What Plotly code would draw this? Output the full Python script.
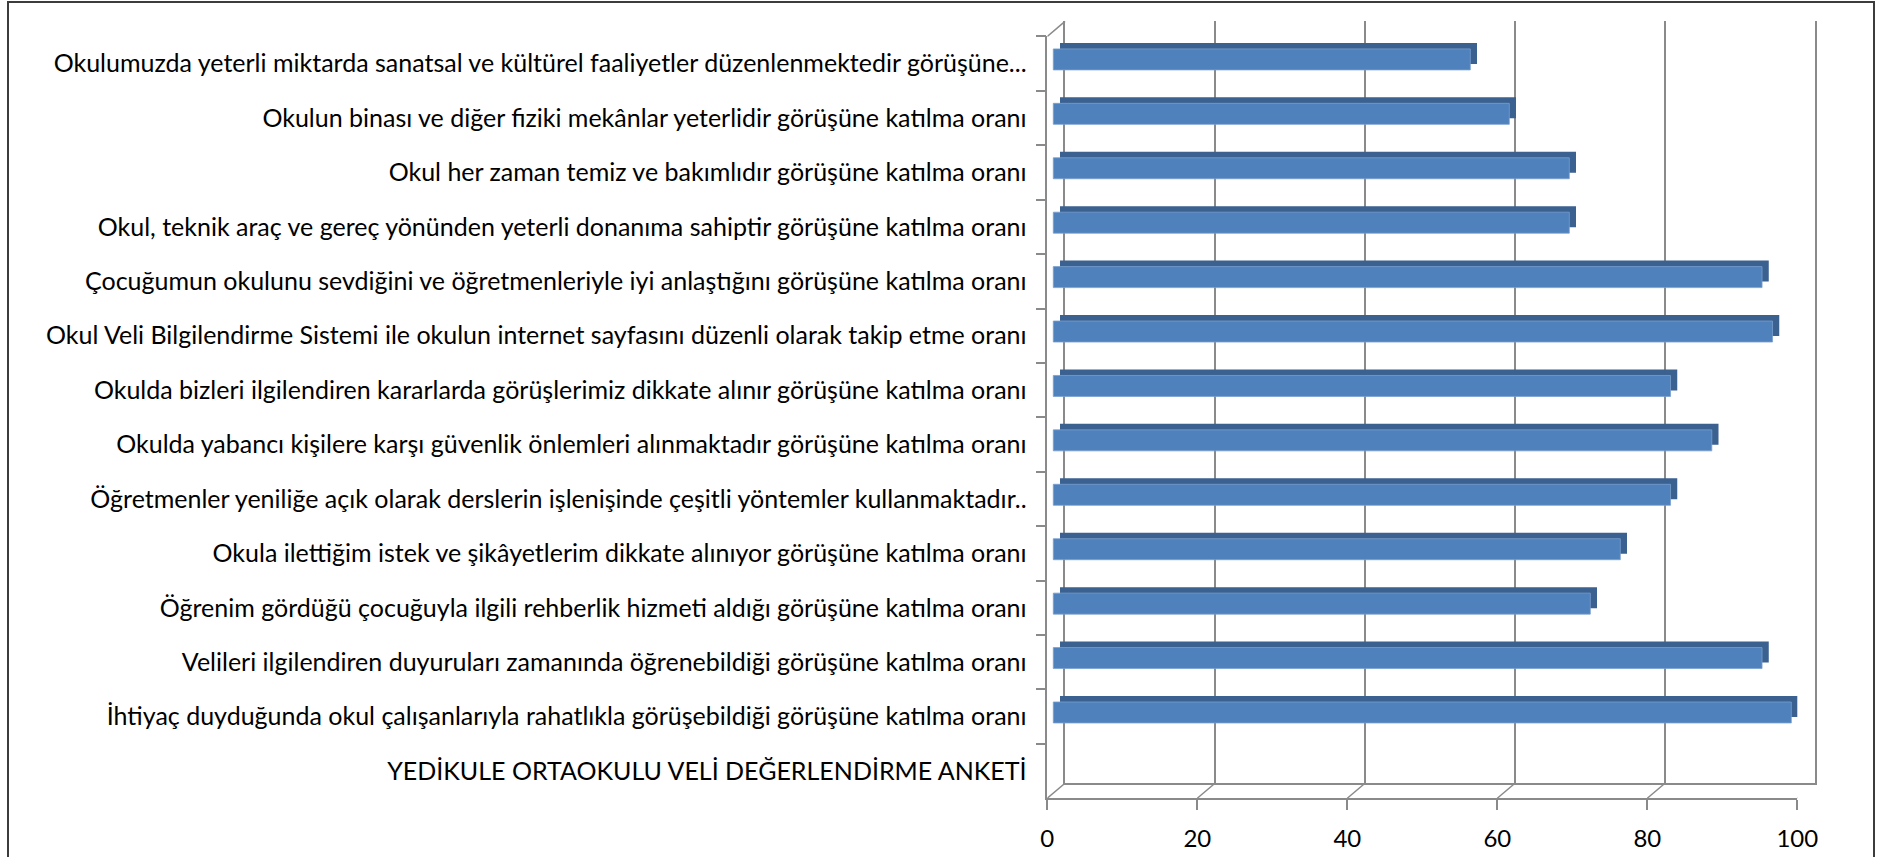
import plotly.graph_objects as go

# ---------------- data (bottom -> top, as plotted) ----------------
CATEGORIES = [
    "YEDİKULE ORTAOKULU VELİ DEĞERLENDİRME ANKETİ",
    "İhtiyaç duyduğunda okul çalışanlarıyla rahatlıkla görüşebildiği görüşüne katılma oranı",
    "Velileri ilgilendiren duyuruları zamanında öğrenebildiği görüşüne katılma oranı",
    "Öğrenim gördüğü çocuğuyla ilgili rehberlik hizmeti aldığı görüşüne katılma oranı",
    "Okula ilettiğim istek ve şikâyetlerim dikkate alınıyor görüşüne katılma oranı",
    "Öğretmenler yeniliğe açık olarak derslerin işlenişinde çeşitli yöntemler kullanmaktadır..",
    "Okulda yabancı kişilere karşı güvenlik önlemleri alınmaktadır görüşüne katılma oranı",
    "Okulda bizleri ilgilendiren kararlarda görüşlerimiz dikkate alınır görüşüne katılma oranı",
    "Okul Veli Bilgilendirme Sistemi ile okulun internet sayfasını düzenli olarak takip etme oranı",
    "Çocuğumun okulunu sevdiğini ve öğretmenleriyle iyi anlaştığını görüşüne katılma oranı",
    "Okul, teknik araç ve gereç yönünden yeterli donanıma sahiptir görüşüne katılma oranı",
    "Okul her zaman temiz ve bakımlıdır görüşüne katılma oranı",
    "Okulun binası ve diğer fiziki mekânlar yeterlidir görüşüne katılma oranı",
    "Okulumuzda yeterli miktarda sanatsal ve kültürel faaliyetler düzenlenmektedir görüşüne...",
]
VALUES = [None, 98.4, 94.5, 71.6, 75.6, 82.3, 87.8, 82.3, 95.9, 94.5, 68.8, 68.8, 60.8, 55.6]
X_TICKS = [0, 20, 40, 60, 80, 100]
X_TICK_LABELS = ["0", "20", "40", "60", "80", "100"]

# ---------------- styling / geometry ----------------
W, H = 1885, 857
FONT = "Lato"
GRID = "#8a8a8a"
FRONT_BLUE = "#4F81BD"
DARK_BLUE = "#3A6190"

# front plane (px)
FX0, FX1 = 1047.3, 1797.3
FY_TOP, FY_BOT = 36.4, 798.3
# depth shift of back wall (px)
DX, DY = 17.7, 15.0
PX_PER_UNIT = (FX1 - FX0) / 100.0

front_xdom = [FX0 / W, FX1 / W]
front_ydom = [1 - FY_BOT / H, 1 - FY_TOP / H]
back_xdom = [(FX0 + DX) / W, (FX1 + DX) / W]
back_ydom = [1 - (FY_BOT - DY) / H, 1 - (FY_TOP - DY) / H]

FRONT_BASE = 6.0 / PX_PER_UNIT      # bar front face starts slightly inside
BACK_BASE = 12.7 / PX_PER_UNIT      # bar back/top face
BAR_W = 0.386
FRONT_OFF = -0.116
BACK_OFF = FRONT_OFF + 6.0 / 54.4

fig = go.Figure()

# invisible trace to keep back-wall subplot alive
fig.add_trace(go.Scatter(x=[None], y=[None], xaxis="x", yaxis="y",
                         showlegend=False, hoverinfo="skip"))

# 3D-ish bars: darker top/side face behind, front face on top
fig.add_trace(go.Bar(
    x=VALUES, y=CATEGORIES, orientation="h", base=BACK_BASE,
    offset=BACK_OFF, width=BAR_W,
    marker=dict(color=DARK_BLUE, line=dict(width=0)),
    xaxis="x2", yaxis="y2", showlegend=False, hoverinfo="skip"))
fig.add_trace(go.Bar(
    x=VALUES, y=CATEGORIES, orientation="h", base=FRONT_BASE,
    offset=FRONT_OFF, width=BAR_W,
    marker=dict(color=FRONT_BLUE, line=dict(color="#7aa0cf", width=0.8)),
    xaxis="x2", yaxis="y2", showlegend=False,
    hovertemplate="%{y}: %{x}<extra></extra>"))

shapes = []
# diagonal depth connectors at each x tick (floor) and top-left corner
for t in X_TICKS:
    shapes.append(dict(type="line", xref="x2", xsizemode="pixel", xanchor=t,
                       x0=0, x1=DX, yref="y2 domain", ysizemode="pixel",
                       yanchor=0, y0=0, y1=DY,
                       line=dict(color=GRID, width=1.5), layer="below"))
shapes.append(dict(type="line", xref="x2", xsizemode="pixel", xanchor=X_TICKS[0],
                   x0=0, x1=DX, yref="y2 domain", ysizemode="pixel",
                   yanchor=1, y0=0, y1=DY,
                   line=dict(color=GRID, width=1.5), layer="below"))
# outer frame
shapes.append(dict(type="rect", xref="paper", yref="paper",
                   x0=8 / W, x1=1874 / W, y0=-0.05, y1=1 - 2 / H,
                   line=dict(color="#3c3c3c", width=2), fillcolor="rgba(0,0,0,0)"))

fig.update_layout(
    width=W, height=H,
    margin=dict(l=0, r=0, t=0, b=0),
    paper_bgcolor="white", plot_bgcolor="rgba(0,0,0,0)",
    barmode="overlay",
    font=dict(family=FONT, color="#000000", size=25),
    shapes=shapes,
    # back wall
    xaxis=dict(domain=back_xdom, range=[0, 100], anchor="y",
               tickvals=X_TICKS, showticklabels=False, ticks="",
               showgrid=True, gridcolor=GRID, gridwidth=1.5,
               showline=True, linecolor=GRID, linewidth=1.5,
               zeroline=False, automargin=False, fixedrange=True),
    yaxis=dict(domain=back_ydom, range=[0, 1], anchor="x",
               showticklabels=False, ticks="", showgrid=False,
               showline=True, mirror=True, linecolor=GRID, linewidth=1.5,
               zeroline=False, automargin=False, fixedrange=True),
    # front plane
    xaxis2=dict(domain=front_xdom, range=[0, 100], anchor="y2",
                tickvals=X_TICKS, ticktext=X_TICK_LABELS,
                ticks="outside", ticklen=10, tickcolor=GRID, tickwidth=1.5,
                showline=True, linecolor=GRID, linewidth=1.5,
                showgrid=False, zeroline=False, automargin=False,
                tickfont=dict(family=FONT, size=24, color="#000000"),
                ticklabelstandoff=8, fixedrange=True),
    yaxis2=dict(domain=front_ydom, anchor="x2", type="category",
                categoryorder="array", categoryarray=CATEGORIES,
                range=[-0.5, len(CATEGORIES) - 0.5],
                ticks="outside", ticklen=10, tickcolor=GRID, tickwidth=1.5,
                tickson="boundaries",
                showline=True, linecolor=GRID, linewidth=1.5,
                showgrid=False, zeroline=False, automargin=False,
                tickfont=dict(family=FONT, size=25, color="#000000"),
                ticklabelstandoff=14, fixedrange=True),
)

fig.write_html("out.html",
               config={"displayModeBar": False},
               post_script="document.body.style.margin='0px';"
                           "document.body.style.overflow='hidden';")
